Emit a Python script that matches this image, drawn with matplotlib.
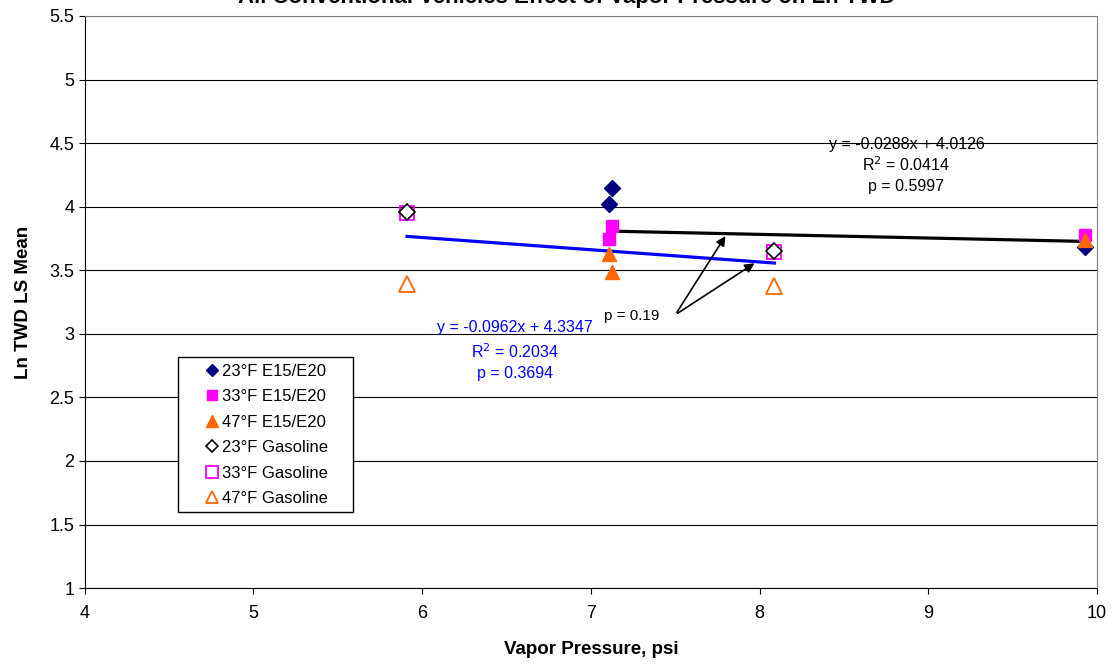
import matplotlib.pyplot as plt
from matplotlib.patches import Rectangle
import numpy as np

plt.rcParams['font.family'] = ['Liberation Sans', 'DejaVu Sans']

# E15/E20 fuels
e_x = [7.106, 7.125, 9.925]
e23 = [4.02, 4.145, 3.685]
e33 = [3.745, 3.845, 3.78]
e47 = [3.63, 3.485, 3.74]

# gasoline
g_x = [5.91, 8.087]
g23 = [3.955, 3.652]
g33 = [3.953, 3.641]
g47 = [3.395, 3.375]

# trend lines (from chart labels)
e_fit = (-0.0288, 4.0126)
g_fit = (-0.0962, 4.3347)

fig = plt.figure(figsize=(11.15, 6.66), dpi=100)
ax = fig.add_axes([0.076, 0.117, 0.908, 0.859])

ax.set_xlim(4, 10)
ax.set_ylim(1, 5.5)
ax.set_yticks(np.arange(1, 5.51, 0.5))
ax.set_yticklabels(['1', '1.5', '2', '2.5', '3', '3.5', '4', '4.5', '5', '5.5'])
ax.set_xticks(range(4, 11))
ax.tick_params(labelsize=13, length=4, width=0.8, direction='out')
ax.tick_params(axis='x', pad=8)
ax.grid(axis='y', color='black', lw=0.8)
ax.set_axisbelow(True)
ax.spines['top'].set_color('#808080')
ax.spines['right'].set_color('#808080')

# trend lines
ex = np.array([min(e_x), max(e_x)])
ax.plot(ex, e_fit[0] * ex + e_fit[1], color='black', lw=2.3, zorder=2)
gx = np.array([min(g_x), max(g_x)])
ax.plot(gx, g_fit[0] * gx + g_fit[1], color='#0000FF', lw=2.3, zorder=2)

ax.plot(e_x, e23, 'D', color='#000080', ms=8, ls='none', label='23°F E15/E20', zorder=3)
ax.plot(e_x, e33, 's', color='#FF00FF', ms=9, ls='none', label='33°F E15/E20', zorder=3)
ax.plot(e_x, e47, '^', color='#FF6600', ms=10, ls='none', label='47°F E15/E20', zorder=3)
ax.plot(g_x, g23, 'D', mfc='white', mec='black', mew=1.2, ms=8, ls='none', label='23°F Gasoline', zorder=4)
ax.plot(g_x, g33, 's', mfc='none', mec='#FF00FF', mew=1.3, ms=10, ls='none', label='33°F Gasoline', zorder=3)
ax.plot(g_x, g47, '^', mfc='white', mec='#FF6600', mew=1.3, ms=11, ls='none', label='47°F Gasoline', zorder=3)

# equation labels
ax.text(8.87, 4.49, 'y = -0.0288x + 4.0126', ha='center', va='center', fontsize=11.5)
ax.text(8.87, 4.33, 'R$^2$ = 0.0414', ha='center', va='center', fontsize=11.5)
ax.text(8.87, 4.155, 'p = 0.5997', ha='center', va='center', fontsize=11.5)

ax.text(6.55, 3.05, 'y = -0.0962x + 4.3347', ha='center', va='center', fontsize=11.5, color='#0000FF')
ax.text(6.55, 2.86, 'R$^2$ = 0.2034', ha='center', va='center', fontsize=11.5, color='#0000FF')
ax.text(6.55, 2.685, 'p = 0.3694', ha='center', va='center', fontsize=11.5, color='#0000FF')

ax.text(7.24, 3.14, 'p = 0.19', ha='center', va='center', fontsize=11)
for tx in [7.806, 7.983]:
    ty = e_fit[0] * tx + e_fit[1] if tx < 7.9 else g_fit[0] * tx + g_fit[1]
    ax.annotate('', xy=(tx, ty), xytext=(7.5, 3.15),
                arrowprops=dict(arrowstyle='-|>', color='black', lw=1.2, mutation_scale=14))

leg = ax.legend(loc='upper left', bbox_to_anchor=(0.1206, 0.392), fontsize=12,
                frameon=False, handlelength=0.6, handletextpad=0.3, borderpad=0,
                borderaxespad=0, labelspacing=0.63, numpoints=1, markerscale=0.8)
ax.add_patch(Rectangle((0.0919, 0.1329), 0.1729, 0.2709, transform=ax.transAxes,
                       facecolor='white', edgecolor='black', lw=1.0, zorder=4.5))
leg.set_zorder(5)

ax.set_xlabel('Vapor Pressure, psi', fontsize=13.5, fontweight='bold')
ax.set_ylabel('Ln TWD LS Mean', fontsize=13.5, fontweight='bold')
ax.xaxis.set_label_coords(0.5, -0.092)
ax.yaxis.set_label_coords(-0.052, 0.5)

fig.text(0.508, 1.0 + 3 / 666, 'All Conventional Vehicles Effect of Vapor Pressure on Ln TWD',
         ha='center', va='center', fontsize=16, fontweight='bold')

fig.savefig('out.png', dpi=100)
